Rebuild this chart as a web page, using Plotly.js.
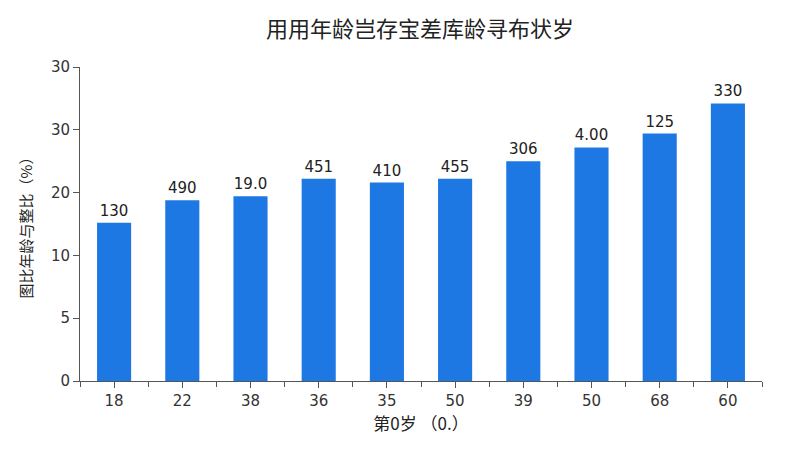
<!DOCTYPE html>
<html>
<head>
<meta charset="utf-8">
<script src="https://cdn.plot.ly/plotly-3.0.1.min.js"></script>
<style>
  html, body { margin: 0; padding: 0; background: #fff; }
  #chart { width: 800px; height: 450px; }
</style>
</head>
<body>
<div id="chart"></div>
<script>
// categories as printed under the bars (duplicates kept, so a numeric x axis is used)
const ageLabels = ['18', '22', '38', '36', '35', '50', '39', '50', '68', '60'];
// bar heights in axis units (axis ticks sit at 0,5,10,15,20,25)
const barHeights = [12.6, 14.4, 14.7, 16.1, 15.8, 16.1, 17.5, 18.6, 19.7, 22.1];
// the text printed over each bar
const barTexts = ['130', '490', '19.0', '451', '410', '455', '306', '4.00', '125', '330'];
// y tick positions and the labels drawn at them
const yTickVals = [0, 5, 10, 15, 20, 25];
const yTickText = ['0', '5', '10', '20', '30', '30'];

function plotChart() {
    const xIdx = ageLabels.map((_, i) => i);

    let barTrace = {
        type: 'bar',
        x: xIdx,
        y: barHeights,
        width: 0.5,
        text: barTexts,
        textposition: 'outside',
        textfont: { family: 'DejaVu Sans, sans-serif', size: 15, color: '#222' },
        cliponaxis: false,
        marker: { color: '#1e78e4' },
        hoverinfo: 'skip'
    };

    const layout = {
        width: 800,
        height: 450,
        margin: { l: 80, r: 38, t: 67, b: 69 },
        paper_bgcolor: '#fff',
        plot_bgcolor: '#fff',
        showlegend: false,
        font: { family: 'DejaVu Sans, sans-serif', color: '#333' },
        title: {
            text: '用用年龄岂存宝差库龄寻布状岁',
            font: { family: 'Noto Sans CJK SC, sans-serif', size: 22, color: '#222' },
            x: 0.525,
            xanchor: 'center',
            y: 0.935,
            yanchor: 'middle'
        },
        xaxis: {
            range: [-0.5, 9.5],
            tickmode: 'array',
            tickvals: xIdx,
            ticktext: ageLabels,
            ticks: 'outside',
            ticklen: 6,
            tickcolor: '#555',
            showline: true,
            linecolor: '#555',
            linewidth: 1,
            showgrid: false,
            zeroline: false,
            tickfont: { size: 15, color: '#333' },
            minor: { ticks: 'outside', tick0: 0.5, dtick: 1, ticklen: 5, tickcolor: '#555', showgrid: false },
            title: {
                text: '第0岁 （0.）',
                font: { family: 'Noto Sans CJK SC, sans-serif', size: 17, color: '#222' },
                standoff: 8
            }
        },
        yaxis: {
            range: [0, 25],
            tickmode: 'array',
            tickvals: yTickVals,
            ticktext: yTickText,
            ticks: 'outside',
            ticklen: 6,
            tickcolor: '#555',
            showline: true,
            linecolor: '#555',
            linewidth: 1,
            showgrid: false,
            zeroline: false,
            tickfont: { size: 15, color: '#333' },
            title: {
                text: '图比年龄与整比（%）',
                font: { family: 'Noto Sans CJK SC, sans-serif', size: 15, color: '#222' },
                standoff: 14
            }
        }
    };

    Plotly.newPlot('chart', [barTrace], layout, { displayModeBar: false, staticPlot: true });
}

plotChart();
</script>
</body>
</html>
